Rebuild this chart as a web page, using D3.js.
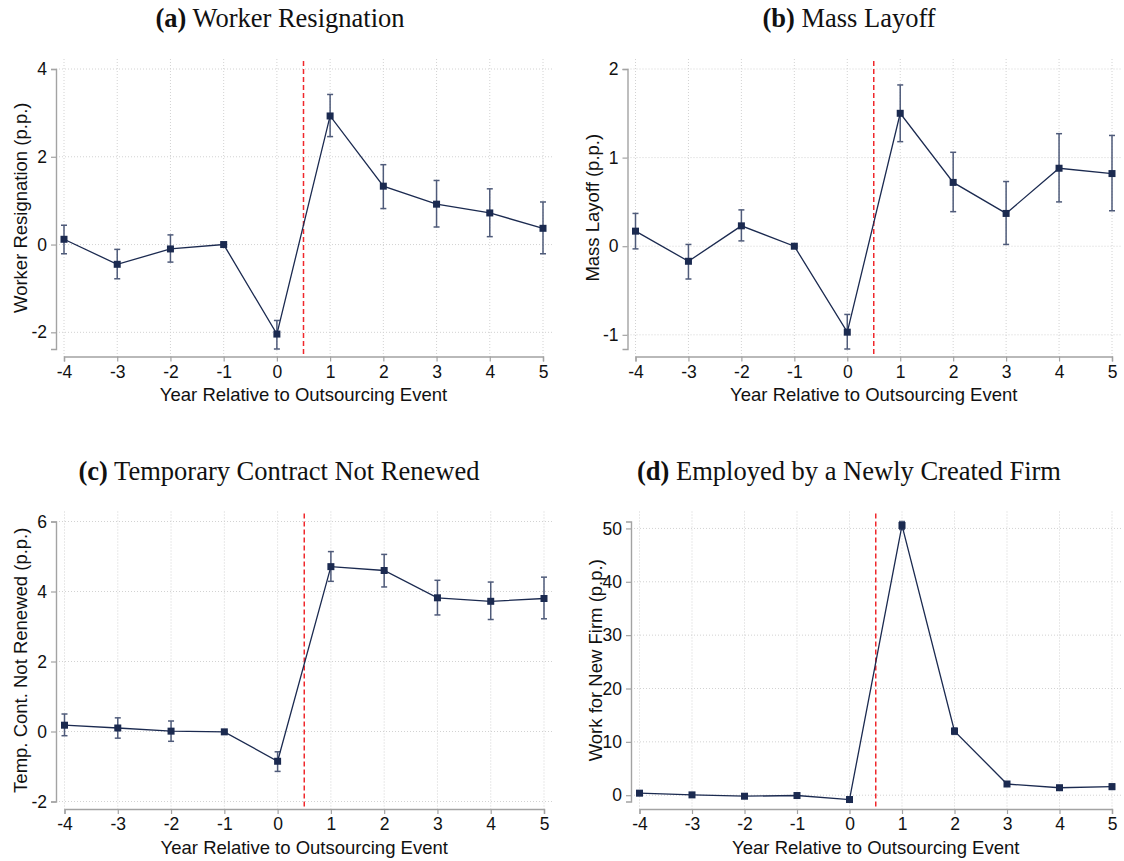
<!DOCTYPE html>
<html>
<head>
<meta charset="utf-8">
<script src="https://cdn.jsdelivr.net/npm/d3@7"></script>
<style>
  body { margin: 0; background: #fff; }
</style>
</head>
<body>
<div id="chart"></div>
<script>
// Event-study estimates
const years = [-4, -3, -2, -1, 0, 1, 2, 3, 4, 5];

const resignEst = [0.12, -0.45, -0.10, 0.00, -2.04, 2.93, 1.33, 0.92, 0.72, 0.37];
const resignLo  = [-0.21, -0.78, -0.40, -0.02, -2.38, 2.46, 0.82, 0.40, 0.18, -0.21];
const resignHi  = [0.44, -0.11, 0.22, 0.02, -1.73, 3.42, 1.82, 1.46, 1.27, 0.97];
const resignTicks = [-2, 0, 2, 4];

const layoffEst = [0.17, -0.17, 0.23, 0.00, -0.97, 1.50, 0.72, 0.37, 0.88, 0.82];
const layoffLo  = [-0.03, -0.37, 0.06, -0.01, -1.16, 1.18, 0.39, 0.02, 0.50, 0.40];
const layoffHi  = [0.37, 0.02, 0.41, 0.01, -0.77, 1.82, 1.06, 0.73, 1.27, 1.25];
const layoffTicks = [-1, 0, 1, 2];

const tempEst = [0.18, 0.10, 0.01, -0.01, -0.85, 4.71, 4.60, 3.82, 3.72, 3.80];
const tempLo  = [-0.12, -0.19, -0.28, -0.04, -1.14, 4.29, 4.13, 3.33, 3.20, 3.22];
const tempHi  = [0.50, 0.39, 0.30, 0.02, -0.58, 5.14, 5.06, 4.32, 4.27, 4.41];
const tempTicks = [-2, 0, 2, 4, 6];

const newFirmEst = [0.38, 0.06, -0.19, -0.06, -0.81, 50.56, 12.0, 2.1, 1.4, 1.6];
const newFirmLo  = [0.10, -0.20, -0.45, -0.30, -1.18, 49.8, 11.4, 1.7, 1.0, 1.1];
const newFirmHi  = [0.65, 0.30, 0.10, 0.20, -0.45, 51.3, 12.6, 2.5, 1.8, 2.1];
const newFirmTicks = [0, 10, 20, 30, 40, 50];

const xLabel = "Year Relative to Outsourcing Event";

// Panel layout
const panels = [
    { tag: "(a)", title: "Worker Resignation", ylab: "Worker Resignation (p.p.)",
      est: resignEst, lo: resignLo, hi: resignHi, ticks: resignTicks,
      cx: 280, axisX: 56, x0: 64, x1: 543, top: 0 },
    { tag: "(b)", title: "Mass Layoff", ylab: "Mass Layoff (p.p.)",
      est: layoffEst, lo: layoffLo, hi: layoffHi, ticks: layoffTicks,
      cx: 849, axisX: 627.5, x0: 635.5, x1: 1112, top: 0 },
    { tag: "(c)", title: "Temporary Contract Not Renewed", ylab: "Temp. Cont. Not Renewed (p.p.)",
      est: tempEst, lo: tempLo, hi: tempHi, ticks: tempTicks,
      cx: 279, axisX: 56, x0: 64.5, x1: 544, top: 452.5 },
    { tag: "(d)", title: "Employed by a Newly Created Firm", ylab: "Work for New Firm (p.p.)",
      est: newFirmEst, lo: newFirmLo, hi: newFirmHi, ticks: newFirmTicks,
      cx: 849, axisX: 631, x0: 639.5, x1: 1112, top: 452.5 }
];

const sans = "'Liberation Sans', Arial, sans-serif";
const serif = "'Liberation Serif', 'Times New Roman', serif";
const navy = "#1b2a50";
const barColor = "#4f5b7a";
const axisColor = "#a3a3a3";
const gridColor = "#d2d2d2";

// Vertical frame of one panel
const plotTop = 59, xAxisY = 356.5, dataTop = 69, dataBottom = 349;

const svg = d3.select("#chart")
    .append("svg")
    .attr("width", 1124)
    .attr("height", 861)
    .style("background", "#fff");

// Plain hyphen for negatives, no decimals
const fmt = d => String(d);

panels.forEach(function (p) {

    const g = svg.append("g").attr("transform", `translate(0,${p.top})`);

    const x = d3.scaleLinear().domain([-4, 5]).range([p.x0, p.x1]);
    const yLo = Math.min(d3.min(p.lo), p.ticks[0]);
    const yHi = Math.max(d3.max(p.hi), p.ticks[p.ticks.length - 1]);
    const y = d3.scaleLinear().domain([yLo, yHi]).range([dataBottom, dataTop]);

    const right = p.x1 + 9;

    // Title
    const t = g.append("text")
        .attr("x", p.cx)
        .attr("y", 27)
        .attr("text-anchor", "middle")
        .style("font-family", serif)
        .style("font-size", "26.5px")
        .style("fill", "#111");
    t.append("tspan").style("font-weight", "bold").text(p.tag);
    t.append("tspan").text(" " + p.title);

    // Grid
    g.append("g").selectAll("line")
        .data(p.ticks)
        .join("line")
        .attr("x1", p.axisX).attr("x2", right)
        .attr("y1", d => y(d)).attr("y2", d => y(d))
        .attr("stroke", gridColor)
        .attr("stroke-width", 1)
        .attr("stroke-dasharray", "1,2");

    g.append("g").selectAll("line")
        .data(years)
        .join("line")
        .attr("x1", d => x(d)).attr("x2", d => x(d))
        .attr("y1", plotTop).attr("y2", xAxisY)
        .attr("stroke", gridColor)
        .attr("stroke-width", 1)
        .attr("stroke-dasharray", "1,2");

    // Axes
    const yAxis = g.append("g")
        .attr("transform", `translate(${p.axisX},0)`)
        .call(d3.axisLeft(y).tickValues(p.ticks).tickFormat(fmt)
            .tickSizeOuter(0).tickSize(5).tickPadding(4));

    const xAxis = g.append("g")
        .attr("transform", `translate(0,${xAxisY})`)
        .call(d3.axisBottom(x).tickValues(years).tickFormat(fmt)
            .tickSizeOuter(0).tickSize(5).tickPadding(4));

    [yAxis, xAxis].forEach(function (a) {
        a.select(".domain").attr("stroke", axisColor).attr("stroke-width", 1.4);
        a.selectAll(".tick line").attr("stroke", axisColor).attr("stroke-width", 1.2);
        a.selectAll(".tick text")
            .style("font-family", sans)
            .style("font-size", "17.5px")
            .attr("fill", "#111");
    });

    // Axis titles
    g.append("text")
        .attr("x", (p.x0 + p.x1) / 2)
        .attr("y", xAxisY + 44.5)
        .attr("text-anchor", "middle")
        .style("font-family", sans)
        .style("font-size", "18.5px")
        .style("fill", "#111")
        .text(xLabel);

    g.append("text")
        .attr("transform", `translate(${p.axisX - 29},${(plotTop + xAxisY) / 2}) rotate(-90)`)
        .attr("text-anchor", "middle")
        .style("font-family", sans)
        .style("font-size", "18.5px")
        .style("fill", "#111")
        .text(p.ylab);

    // Treatment line
    g.append("line")
        .attr("x1", x(0.5)).attr("x2", x(0.5))
        .attr("y1", plotTop + 2).attr("y2", xAxisY)
        .attr("stroke", "#f0282c")
        .attr("stroke-width", 1.5)
        .attr("stroke-dasharray", "5,3");

    const rows = years.map((yr, i) => ({ yr: yr, est: p.est[i], lo: p.lo[i], hi: p.hi[i] }));

    // Confidence intervals
    const ci = g.append("g").attr("stroke", barColor).attr("stroke-width", 1.5);
    ci.selectAll(".bar").data(rows).join("line")
        .attr("x1", d => x(d.yr)).attr("x2", d => x(d.yr))
        .attr("y1", d => y(d.lo)).attr("y2", d => y(d.hi));
    ci.selectAll(".capTop").data(rows).join("line")
        .attr("x1", d => x(d.yr) - 3).attr("x2", d => x(d.yr) + 3)
        .attr("y1", d => y(d.hi)).attr("y2", d => y(d.hi));
    ci.selectAll(".capBottom").data(rows).join("line")
        .attr("x1", d => x(d.yr) - 3).attr("x2", d => x(d.yr) + 3)
        .attr("y1", d => y(d.lo)).attr("y2", d => y(d.lo));

    // Connected estimates
    g.append("path")
        .datum(rows)
        .attr("fill", "none")
        .attr("stroke", navy)
        .attr("stroke-width", 1.3)
        .attr("d", d3.line().x(d => x(d.yr)).y(d => y(d.est)));

    g.append("g").selectAll("rect")
        .data(rows)
        .join("rect")
        .attr("x", d => x(d.yr) - 3.5)
        .attr("y", d => y(d.est) - 3.5)
        .attr("width", 7)
        .attr("height", 7)
        .attr("fill", navy);
});
</script>
</body>
</html>
